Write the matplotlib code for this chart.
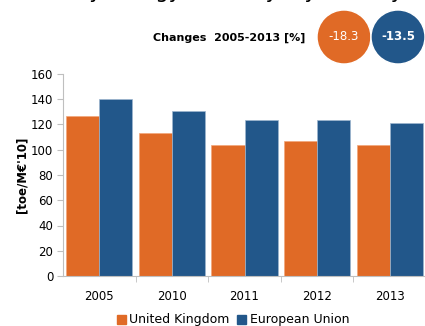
import matplotlib.pyplot as plt
from matplotlib.patches import Ellipse, Patch
import numpy as np

years = ['2005', '2010', '2011', '2012', '2013']
uk = [126.5, 113.5, 104.0, 107.0, 103.4]
eu = [140.5, 130.5, 123.5, 123.5, 121.5]
changes = ['-18.3', '-13.5']

ORANGE = '#E06A26'
BLUE = '#22578A'
GREY = '#BFBFBF'

fig = plt.figure(figsize=(4.25, 3.26), dpi=100)
ax = fig.add_axes([63 / 425, 1 - 276 / 326, 363 / 425, 202 / 326])

x = np.arange(len(years))
w = 0.455
ax.bar(x - w / 2, uk, w, color=ORANGE, edgecolor='#F2A77A', linewidth=0.5)
ax.bar(x + w / 2, eu, w, color=BLUE, edgecolor='#9DB6CF', linewidth=0.5)

ax.set_xlim(-0.5, 4.5)
ax.set_ylim(0, 160)
ax.set_yticks(range(0, 161, 20))
ax.set_xticks(x)
ax.set_xticklabels(years)
ax.set_xticks(np.arange(0.5, 4.5, 1), minor=True)
ax.tick_params(axis='x', which='major', length=0, pad=10, labelsize=8.5)
ax.tick_params(axis='x', which='minor', length=4, color=GREY, direction='out')
ax.tick_params(axis='y', length=4, color=GREY, labelsize=8.5, pad=3)
for s in ['top', 'right']:
    ax.spines[s].set_visible(False)
for s in ['left', 'bottom']:
    ax.spines[s].set_color(GREY)
ax.set_ylabel("[toe/M€'10]", fontsize=8.5, fontweight='bold', labelpad=2)

# title cut off at the top edge, as in the source
fig.text(0.5, 1 + 2 / 326, 'Primary energy intensity, by country', ha='center',
         va='baseline', fontsize=15)

fig.text(305 / 425, 1 - 38 / 326, 'Changes  2005-2013 [%]', ha='right', va='center',
         fontsize=8, fontweight='bold')

for cx, col, lab in [(344, ORANGE, changes[0]), (398, BLUE, changes[1])]:
    c = Ellipse((cx / 425, 1 - 37 / 326), 54 / 425, 54 / 326, transform=fig.transFigure,
                facecolor=col, edgecolor='white', linewidth=1)
    fig.patches.append(c)
    fig.text(cx / 425, 1 - 37 / 326, lab, ha='center', va='center', color='white',
             fontsize=8.5, fontweight='bold' if col == BLUE else 'normal')

handles = [Patch(color=ORANGE), Patch(color=BLUE)]
fig.legend(handles, ['United Kingdom', 'European Union'], loc='center',
           bbox_to_anchor=(233 / 425, 1 - 320 / 326), ncol=2, frameon=False,
           fontsize=9, handlelength=0.7, handleheight=0.7, handletextpad=0.3,
           columnspacing=0.6, borderpad=0)

fig.savefig('out.png', dpi=100)
